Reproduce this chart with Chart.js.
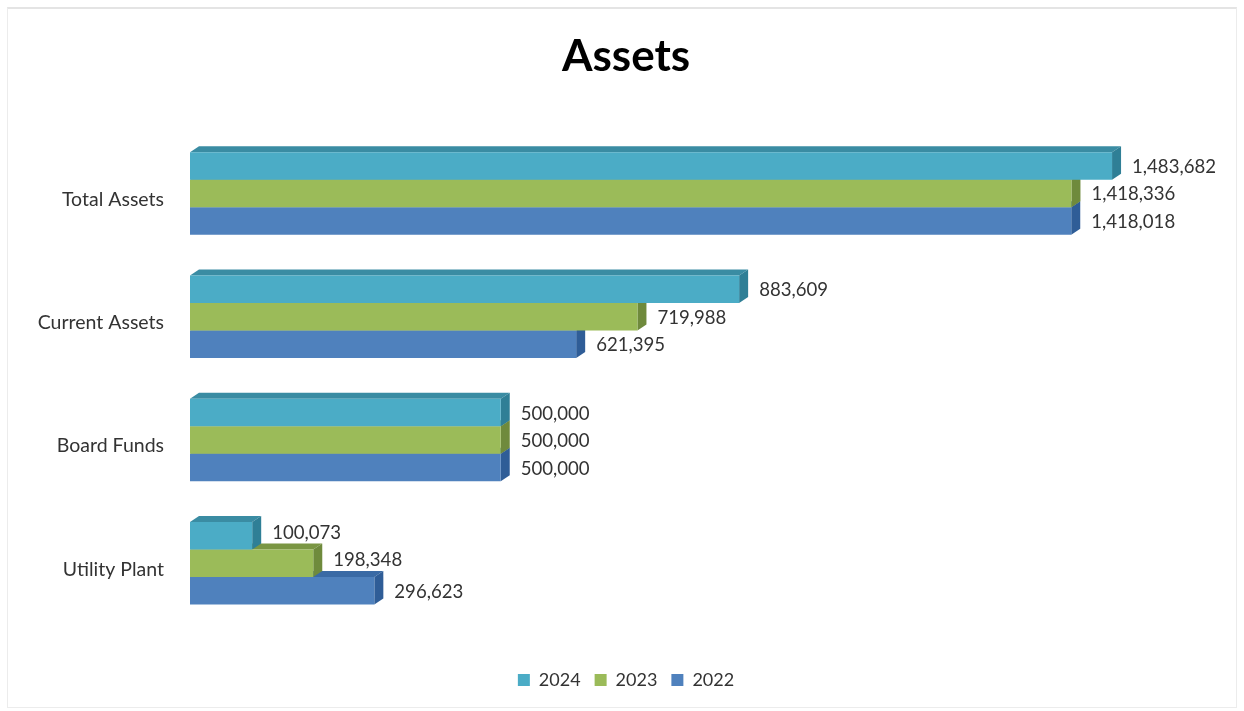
<!DOCTYPE html>
<html>
<head>
<meta charset="utf-8">
<title>Assets</title>
<script src="https://cdn.jsdelivr.net/npm/chart.js@4"></script>
<style>
  html, body { margin: 0; padding: 0; background: #fff; }
  #marco { position: absolute; left: 7px; top: 7px; width: 1230px; height: 701px; border: 1px solid #ececec; border-top: 2px solid #e4e4e4; box-sizing: border-box; }
  #myChart { position: absolute; left: 0; top: 0; }
</style>
</head>
<body>
<div id="marco"></div>
<canvas id="myChart" width="1244" height="711"></canvas>
<script>
'use strict';

const categorias = ['Total Assets', 'Current Assets', 'Board Funds', 'Utility Plant'];
const valores2024 = [1483682, 883609, 500000, 100073];
const valores2023 = [1418336, 719988, 500000, 198348];
const valores2022 = [1418018, 621395, 500000, 296623];

const colores = ['#4BACC6', '#9BBB59', '#4F81BD'];
const coloresLado = ['#2F7F96', '#6F8A3C', '#2F5D97'];
const coloresTapa = ['#3A8CA3', '#7A9643', '#3A6AA5'];

const fuente = 'Lato, "Open Sans", sans-serif';

// Caras laterales y superiores del efecto 3D, de abajo hacia arriba
const caras3d = {
  id: 'caras3d',
  beforeDatasetsDraw(chart) {
    const c = chart.ctx;
    const dx = 9, dy = 6;
    for (let d = chart.data.datasets.length - 1; d >= 0; d--) {
      chart.getDatasetMeta(d).data.forEach(bar => {
        const arriba = bar.y - bar.height / 2;
        const abajo = bar.y + bar.height / 2;
        c.fillStyle = coloresTapa[d];
        c.beginPath();
        c.moveTo(bar.base, arriba);
        c.lineTo(bar.base + dx, arriba - dy);
        c.lineTo(bar.x + dx, arriba - dy);
        c.lineTo(bar.x, arriba);
        c.closePath();
        c.fill();
        c.fillStyle = coloresLado[d];
        c.beginPath();
        c.moveTo(bar.x, arriba);
        c.lineTo(bar.x + dx, arriba - dy);
        c.lineTo(bar.x + dx, abajo - dy);
        c.lineTo(bar.x, abajo);
        c.closePath();
        c.fill();
      });
    }
  }
};

// Etiquetas de valor a la derecha de cada barra
const etiquetas = {
  id: 'etiquetas',
  afterDatasetsDraw(chart) {
    const c = chart.ctx;
    const sets = chart.data.datasets;
    c.save();
    c.font = '18.6px ' + fuente;
    c.fillStyle = '#333333';
    c.textAlign = 'left';
    c.textBaseline = 'middle';
    sets.forEach((ds, d) => {
      chart.getDatasetMeta(d).data.forEach((bar, i) => {
        // Si la barra de abajo es mas larga, la etiqueta sube para no pisar su tapa
        const siguiente = sets[d + 1];
        const sube = siguiente && siguiente.data[i] > ds.data[i] ? 4 : 0;
        c.fillText(ds.data[i].toLocaleString('en-US'), bar.x + 20, bar.y + 1 - sube);
      });
    });
    c.restore();
  }
};

const ctx = document.getElementById('myChart').getContext('2d');
const myChart = new Chart(ctx, {
  type: 'bar',
  data: {
    labels: categorias,
    datasets: [
      { label: '2024', data: valores2024, backgroundColor: colores[0] },
      { label: '2023', data: valores2023, backgroundColor: colores[1] },
      { label: '2022', data: valores2022, backgroundColor: colores[2] }
    ]
  },
  options: {
    indexAxis: 'y',
    responsive: false,
    animation: false,
    barPercentage: 1,
    categoryPercentage: 0.669,
    layout: { padding: { top: 30, right: 0, bottom: 12, left: 8 } },
    scales: {
      x: {
        min: 0,
        max: 1696000,
        afterFit(scale) { scale.height = 32; },
        grid: { display: false, drawTicks: false },
        border: { display: false },
        ticks: { display: false }
      },
      y: {
        afterFit(scale) { scale.width = 182; },
        grid: { display: false, drawTicks: false },
        border: { display: false },
        ticks: { color: '#333333', font: { family: fuente, size: 19.5 }, padding: 26, labelOffset: 6 }
      }
    },
    plugins: {
      title: {
        display: true,
        text: 'Assets',
        color: '#000000',
        font: { family: fuente, size: 44, weight: 'bold' },
        padding: { top: 0, bottom: 49 }
      },
      legend: {
        position: 'bottom',
        labels: { color: '#333333', boxWidth: 12, boxHeight: 12, padding: 14, font: { family: fuente, size: 18 } }
      },
      tooltip: { enabled: false }
    }
  },
  plugins: [caras3d, etiquetas]
});
</script>
</body>
</html>
